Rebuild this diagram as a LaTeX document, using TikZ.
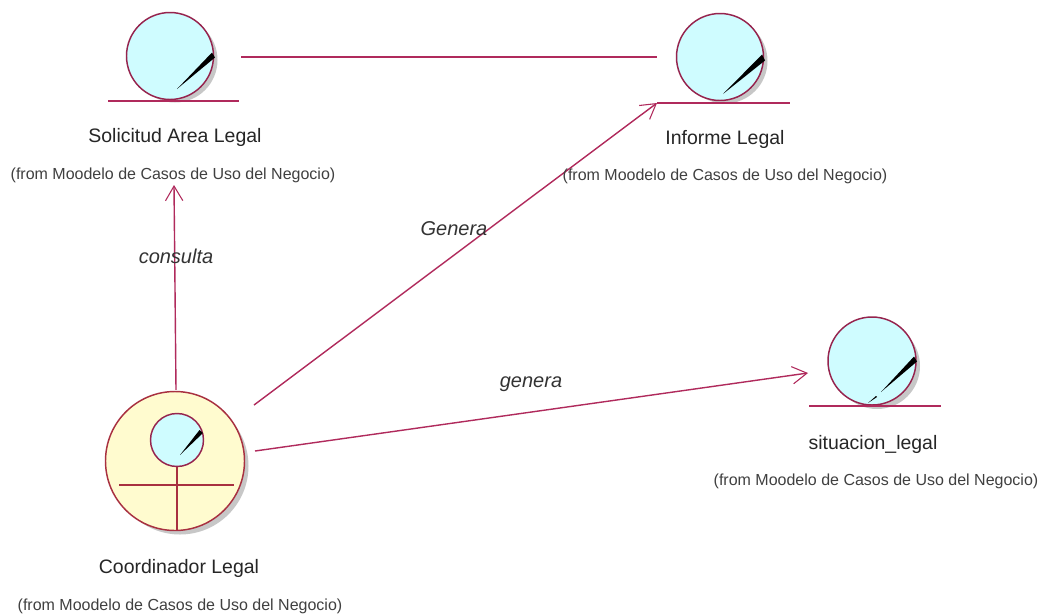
\documentclass[tikz,border=0pt]{standalone}
\usepackage{fontspec}
\setmainfont{Liberation Sans}
\usetikzlibrary{arrows.meta,calc}
\definecolor{rosered}{HTML}{B02A5C}
\definecolor{actorred}{HTML}{A83040}
\definecolor{lightcyan}{HTML}{CFFCFF}
\definecolor{actoryellow}{HTML}{FFFBCF}
\tikzset{
  x=0.75pt,y=-0.75pt,
  link/.style={draw=rosered,line width=1.05pt},
  openarrow/.style={link,-{Straight Barb[length=11pt,width=13pt,line width=0.8pt]}},
  shadowdisc/.style={circle,fill=black!22,draw=none,inner sep=0pt,minimum size=#1*0.75pt},
  entitydisc/.style={circle,fill=lightcyan,draw=rosered!85!black,line width=1.1pt,inner sep=0pt,minimum size=#1*0.75pt},
  actordisc/.style={circle,fill=actoryellow,draw=actorred,line width=1.1pt,inner sep=0pt,minimum size=#1*0.75pt},
  baseln/.style={draw=rosered,line width=1.1pt},
  crossln/.style={draw=actorred,line width=1.1pt},
  needle/.style={fill=black,draw=none},
  namelabel/.style={inner sep=0pt,font=\fontsize{14.6pt}{16pt}\selectfont,text=black!85},
  fromlabel/.style={inner sep=0pt,font=\fontsize{12pt}{14pt}\selectfont,text=black!75},
  linklabel/.style={inner sep=0pt,font=\fontsize{15pt}{17pt}\itshape\selectfont,text=black!80},
}
\begin{document}
\begin{tikzpicture}
\useasboundingbox (0,0) rectangle (1043,615);
\fill[white] (0,0) rectangle (1043,615);
% shadows
\node[shadowdisc=85] at (175,60) {};
\node[shadowdisc=85] at (725,61) {};
\node[shadowdisc=86] at (877,366) {};
\node[shadowdisc=137] at (180,466) {};
% entities
\node[entitydisc=87] (sol) at (170,56) {};
\node[entitydisc=87] (inf) at (720,57) {};
\node[entitydisc=88] (sit) at (872,361) {};
\node[actordisc=139] (coord) at (175,461) {};
\node[entitydisc=53] (head) at (177,440) {};
\draw[baseln] (108,101) -- (239,101);
\draw[baseln] (657,103) -- (790,103);
\draw[baseln] (809,406) -- (941,406);
% needles
\fill[needle] (177,89) -- (212,52.5) -- (215,57.5) -- cycle;
\fill[needle] (723,94) -- (762,54.5) -- (765,60.5) -- cycle;
\fill[needle] (881,392) -- (914,356.5) -- (917,361.5) -- cycle;
\fill[needle] (868,403) -- (876,396) -- (877,397) -- cycle;
\fill[needle] (180,455) -- (199.5,430) -- (203,433) -- cycle;
% actor body
\draw[crossln] (119,485) -- (234,485);
\draw[crossln] (head.south) -- (head.south |- coord.south);
% connectors
\draw[link] ([shift={(71,1)}]sol.center) -- ([shift={(-63,0)}]inf.center);
\draw[openarrow] ([shift={(1,-1)}]coord.north) -- ([shift={(4,129)}]sol.center);
\draw[openarrow] ([shift={(79,-56)}]coord.center) -- ([shift={(-63,46)}]inf.center);
\draw[openarrow] ([shift={(80,-10)}]coord.center) -- ([shift={(-64,12)}]sit.center);
% labels
\node[namelabel] (l1) at (175,137) {Solicitud Area Legal};
\node[fromlabel] (f1) at (173,175) {(from Moodelo de Casos de Uso del Negocio)};
\node[namelabel] (l2) at (725,139) {Informe Legal};
\node[fromlabel] (f2) at (725,176) {(from Moodelo de Casos de Uso del Negocio)};
\node[namelabel] (l3) at (873,444) {situacion\_legal};
\node[fromlabel] (f3) at (876,481) {(from Moodelo de Casos de Uso del Negocio)};
\node[namelabel] (l4) at (179,568) {Coordinador Legal};
\node[fromlabel] (f4) at (180,606) {(from Moodelo de Casos de Uso del Negocio)};
\node[linklabel] (t1) at (176,256) {consulta};
\node[linklabel] (t2) at (454,229) {Genera};
\node[linklabel] (t3) at (531,384) {genera};
\end{tikzpicture}
\end{document}
